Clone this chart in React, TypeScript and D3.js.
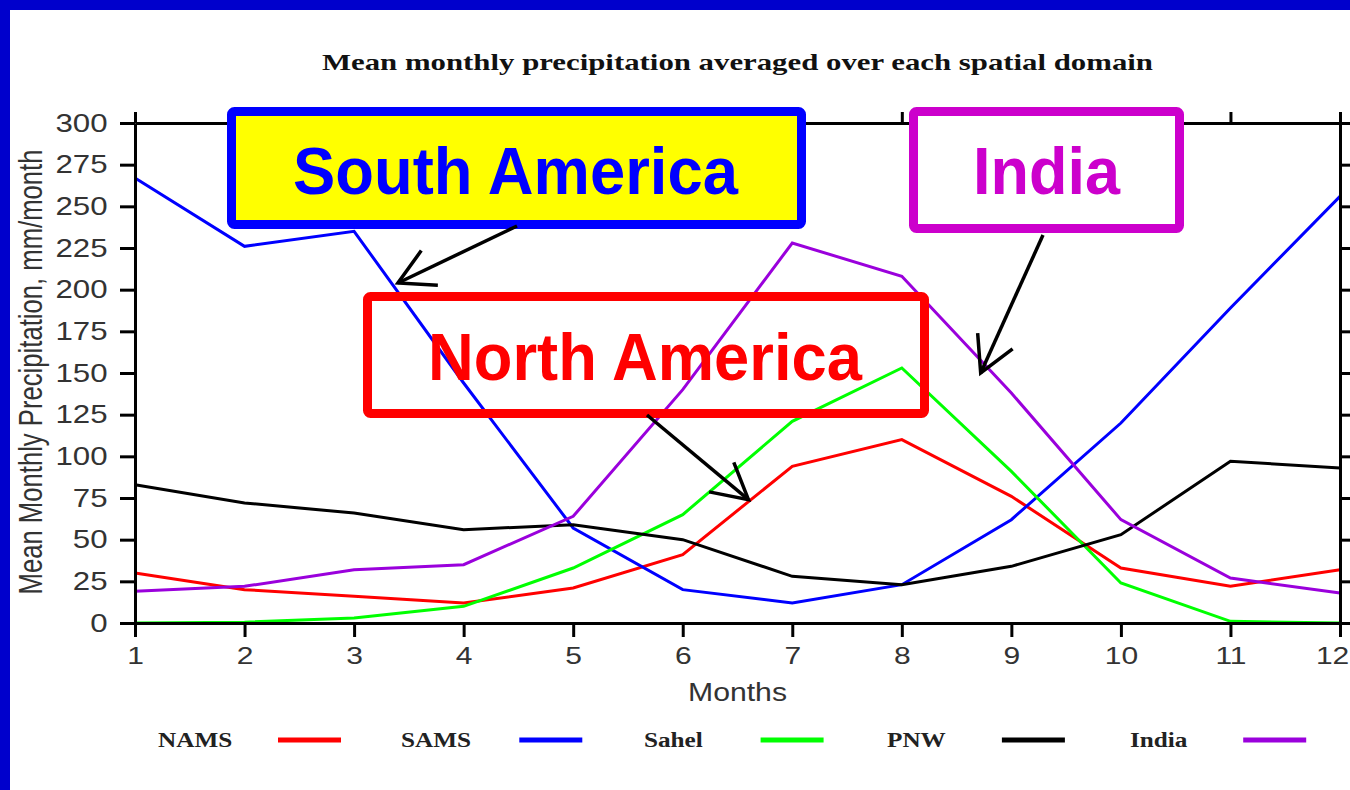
import React, { useEffect, useRef } from 'react';
import * as d3 from 'd3';

// Mean monthly precipitation (mm/month)
const months = [1, 2, 3, 4, 5, 6, 7, 8, 9, 10, 11, 12];
const nams = [30, 20, 16, 12, 21, 41, 94, 110, 76, 33, 22, 32];
const sams = [267, 226, 235, 144, 57, 20, 12, 23, 62, 120, 189, 256];
const sahel = [0, 0.5, 3, 10, 33, 65, 121, 153, 91, 24, 1, 0];
const pnw = [83, 72, 66, 56, 59, 50, 28, 23, 34, 53, 97, 93];
const india = [19, 22, 32, 35, 64, 140, 228, 208, 138, 62, 27, 18];

const seriesNames = ['NAMS', 'SAMS', 'Sahel', 'PNW', 'India'];
const seriesValues = [nams, sams, sahel, pnw, india];
const seriesColors = ['#ff0000', '#0000ff', '#00ff00', '#000000', '#9a00dc'];

const yTicks = [0, 25, 50, 75, 100, 125, 150, 175, 200, 225, 250, 275, 300];

// annotation arrows: tip in data units (month, value)
const arrowTips = [
  { from: [517, 226], month: 3.4, value: 204 },
  { from: [647, 415], month: 6.6, value: 74 },
  { from: [1043, 235], month: 8.72, value: 150 },
];

const W = 1350;
const H = 790;
const margin = { top: 123, right: 10, bottom: 167, left: 135 };

const sans = "'Liberation Sans', Arial, Helvetica, sans-serif";
const serif = "'Liberation Serif', 'Times New Roman', serif";

export default function App() {
  const svgRef = useRef<SVGSVGElement>(null);

  useEffect(() => {
    if (!svgRef.current) return;
    const svg = d3.select(svgRef.current);
    svg.selectAll('*').remove();

    const width = W - margin.left - margin.right;
    const height = H - margin.top - margin.bottom;

    svg.append('rect').attr('width', W).attr('height', H).attr('fill', '#ffffff');

    const x = d3.scaleLinear().domain([1, 12]).range([0, width]);
    const y = d3.scaleLinear().domain([0, 300]).range([height, 0]);

    const g = svg.append('g').attr('transform', `translate(${margin.left},${margin.top})`);

    // Title
    svg.append('text')
      .attr('x', 322)
      .attr('y', 70)
      .attr('textLength', 831)
      .attr('lengthAdjust', 'spacingAndGlyphs')
      .style('font-family', serif)
      .style('font-weight', 'bold')
      .style('font-size', '24px')
      .style('fill', '#111')
      .text('Mean monthly precipitation averaged over each spatial domain');

    // Series lines
    const line = d3.line<number>()
      .x((_, i) => x(months[i]))
      .y(d => y(d));

    seriesValues.forEach((vals, i) => {
      g.append('path')
        .datum(vals)
        .attr('fill', 'none')
        .attr('stroke', seriesColors[i])
        .attr('stroke-width', 3)
        .attr('d', line);
    });

    // Axes
    const styleAxis = (sel: any) => {
      sel.select('.domain').attr('stroke', '#000').attr('stroke-width', 3);
      sel.selectAll('.tick line').attr('stroke', '#000').attr('stroke-width', 3);
    };

    g.append('g')
      .call(d3.axisLeft(y).tickValues(yTicks).tickSize(15).tickSizeOuter(0).tickPadding(7))
      .call(styleAxis)
      .selectAll('text')
      .attr('transform', 'scale(1.25,1)')
      .style('font-family', sans)
      .style('font-size', '25px')
      .style('fill', '#333');

    g.append('g')
      .attr('transform', `translate(0,${height})`)
      .call(d3.axisBottom(x).tickValues(months).tickFormat(d3.format('d')).tickSize(14).tickSizeOuter(0).tickPadding(10))
      .call(styleAxis)
      .selectAll<SVGTextElement, number>('text')
      .attr('transform', 'scale(1.25,1)')
      // keep the last label inside the picture
      .attr('text-anchor', d => (d === 12 ? 'end' : 'middle'))
      .attr('x', d => (d === 12 ? 7 : 0))
      .style('font-family', sans)
      .style('font-size', '24px')
      .style('fill', '#333');

    g.append('g')
      .call(d3.axisTop(x).tickValues(months).tickFormat(() => '').tickSize(11).tickSizeOuter(0))
      .call(styleAxis);

    g.append('g')
      .attr('transform', `translate(${width},0)`)
      .call(d3.axisRight(y).tickValues(yTicks).tickFormat(() => '').tickSize(10).tickSizeOuter(0))
      .call(styleAxis);

    // Axis titles
    svg.append('text')
      .attr('x', 688)
      .attr('y', 701)
      .attr('textLength', 99)
      .attr('lengthAdjust', 'spacingAndGlyphs')
      .style('font-family', sans)
      .style('font-size', '26px')
      .style('fill', '#333')
      .text('Months');

    svg.append('text')
      .attr('transform', 'translate(42,372) scale(1.3,1) rotate(-90)')
      .attr('text-anchor', 'middle')
      .attr('textLength', 445)
      .attr('lengthAdjust', 'spacingAndGlyphs')
      .style('font-family', sans)
      .style('font-size', '26px')
      .style('fill', '#333')
      .text('Mean Monthly Precipitation, mm/month');

    // Legend
    seriesNames.forEach((name, i) => {
      const lx = 158 + i * 243;
      svg.append('text')
        .attr('transform', `translate(${lx},747) scale(1.2,1)`)
        .style('font-family', serif)
        .style('font-weight', 'bold')
        .style('font-size', '21px')
        .style('fill', '#222')
        .text(name);
      svg.append('line')
        .attr('x1', 278 + i * 241.3)
        .attr('x2', 341 + i * 241.3)
        .attr('y1', 740)
        .attr('y2', 740)
        .attr('stroke', seriesColors[i])
        .attr('stroke-width', 5);
    });

    // Annotation boxes
    const boxes = [
      { x: 231.5, y: 111.5, w: 570, h: 113, stroke: '#0000ff', fill: '#ffff00', label: 'South America', tx: 293, ty: 194, tl: 445 },
      { x: 367.5, y: 296.5, w: 557, h: 117, stroke: '#ff0000', fill: 'none', label: 'North America', tx: 428, ty: 380, tl: 434 },
      { x: 913.5, y: 111.5, w: 266, h: 117, stroke: '#cc00cc', fill: '#ffffff', label: 'India', tx: 973, ty: 194, tl: 147 },
    ];
    boxes.forEach(b => {
      svg.append('rect')
        .attr('x', b.x)
        .attr('y', b.y)
        .attr('width', b.w)
        .attr('height', b.h)
        .attr('rx', 3)
        .attr('fill', b.fill)
        .attr('stroke', b.stroke)
        .attr('stroke-width', 9);
      svg.append('text')
        .attr('x', b.tx)
        .attr('y', b.ty)
        .attr('textLength', b.tl)
        .attr('lengthAdjust', 'spacingAndGlyphs')
        .style('font-family', sans)
        .style('font-weight', 'bold')
        .style('font-size', '66px')
        .style('fill', b.stroke)
        .text(b.label);
    });

    // Arrows
    arrowTips.forEach(a => {
      const tx = margin.left + x(a.month);
      const ty = margin.top + y(a.value);
      const [fx, fy] = a.from;
      const ang = Math.atan2(fy - ty, fx - tx);
      const len = 40;
      const spread = 0.5;
      const p1 = [tx + len * Math.cos(ang + spread), ty + len * Math.sin(ang + spread)];
      const p2 = [tx + len * Math.cos(ang - spread), ty + len * Math.sin(ang - spread)];
      svg.append('line')
        .attr('x1', fx).attr('y1', fy).attr('x2', tx).attr('y2', ty)
        .attr('stroke', '#000').attr('stroke-width', 3.5);
      svg.append('path')
        .attr('d', `M${p1[0]},${p1[1]}L${tx},${ty}L${p2[0]},${p2[1]}`)
        .attr('fill', 'none')
        .attr('stroke', '#000')
        .attr('stroke-width', 3.5);
    });

    // Blue frame (top and left edges)
    svg.append('rect').attr('x', 0).attr('y', 0).attr('width', W).attr('height', 10).attr('fill', '#0000cc');
    svg.append('rect').attr('x', 0).attr('y', 0).attr('width', 10).attr('height', H).attr('fill', '#0000cc');
  }, []);

  return (
    <div style={{ position: 'absolute', left: 0, top: 0, width: W, height: H, overflow: 'hidden' }}>
      <svg ref={svgRef} width={W} height={H} style={{ display: 'block' }} />
    </div>
  );
}
